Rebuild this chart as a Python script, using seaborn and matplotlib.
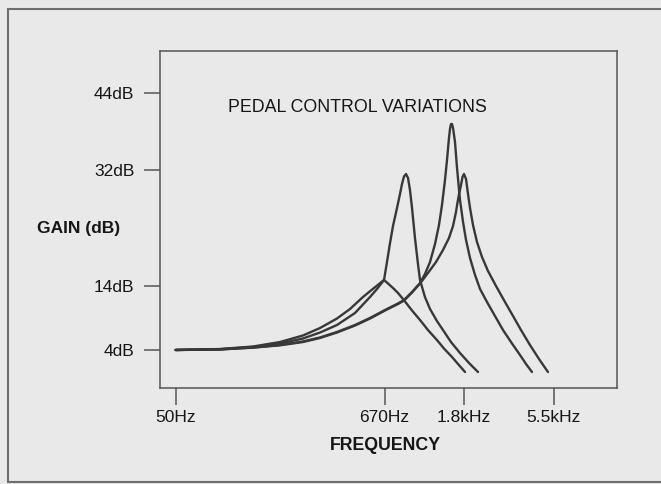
import matplotlib
matplotlib.use("Agg")
import matplotlib.pyplot as plt
from matplotlib.lines import Line2D
import pandas as pd
import seaborn as sns

# Response curves for four pedal positions (frequency in Hz, gain in dB)
freq_a = [50, 86.7, 130.7, 182.8, 243.2, 300.5, 371.0, 436.2, 512.5, 587.6,
          665.6, 699.7, 744.2, 792.0, 864.0, 942.6, 1041, 1149, 1285, 1402,
          1549, 1669, 1822]
gain_a = [3.96, 4.11, 4.50, 5.20, 6.22, 7.38, 8.86, 10.34, 12.21, 13.61,
          14.86, 14.31, 13.61, 12.84, 11.51, 10.11, 8.63, 7.07, 5.51, 4.19,
          2.87, 1.78, 0.53]

freq_b = [50, 86.7, 130.7, 182.8, 243.2, 300.5, 371.0, 464.1, 559.3, 610,
          665.6, 690.7, 717.2, 744.2, 782.2, 811.9, 832.3, 853.3, 874.9, 896.9,
          919.2, 942.6, 977.9, 1015, 1041, 1107, 1179, 1285, 1385, 1530,
          1711, 1914, 2140]
gain_b = [3.96, 4.08, 4.43, 4.97, 5.75, 6.68, 7.85, 9.72, 12.21, 13.46,
          14.86, 17.66, 20.62, 23.27, 26.07, 28.25, 29.81, 30.98, 31.36, 30.74,
          28.87, 26.07, 21.40, 17.35, 14.86, 12.21, 10.34, 8.47, 7.07, 5.20,
          3.49, 1.93, 0.53]

freq_c = [50, 86.7, 130.7, 182.8, 243.2, 300.5, 371.0, 464.1, 559.3, 674.1,
          792.0, 853.3, 942.6, 1041, 1107, 1179, 1254, 1318, 1368, 1420,
          1456, 1492, 1511, 1530, 1549, 1569, 1608, 1628, 1649, 1691,
          1711, 1777, 1844, 1938, 2062, 2194, 2393, 2643, 2920, 3225,
          3606, 3886, 4186]
gain_c = [3.96, 4.05, 4.35, 4.74, 5.29, 5.91, 6.76, 7.85, 8.94, 10.19,
          11.20, 11.74, 12.99, 14.39, 15.79, 17.66, 20.46, 23.42, 26.54, 30.43,
          33.54, 36.97, 38.37, 39.15, 39.15, 38.53, 36.35, 34.32, 32.30, 28.87,
          27.32, 23.89, 21.09, 18.28, 15.64, 13.46, 11.43, 9.25, 7.07, 5.20,
          3.18, 1.78, 0.53]

freq_d = [50, 86.7, 130.7, 182.8, 243.2, 300.5, 371.0, 464.1, 559.3, 674.1,
          792.0, 853.3, 942.6, 1041, 1149, 1270, 1385, 1492, 1569, 1628,
          1657, 1691, 1733, 1765, 1798, 1844, 1890, 1938, 2011, 2113,
          2249, 2423, 2677, 2993, 3307, 3651, 4083, 4566, 5106]
gain_d = [3.96, 4.04, 4.32, 4.69, 5.20, 5.83, 6.68, 7.77, 8.86, 10.11,
          11.12, 11.66, 12.91, 14.31, 15.95, 17.66, 19.53, 21.40, 23.27, 25.45,
          26.85, 28.25, 29.65, 30.90, 31.36, 30.59, 28.25, 26.07, 23.42, 20.78,
          18.44, 16.26, 13.92, 11.43, 9.25, 7.07, 4.73, 2.56, 0.53]

x_ticks = [50, 670, 1800, 5500]
x_labels = ["50Hz", "670Hz", "1.8kHz", "5.5kHz"]
y_ticks = [4, 14, 32, 44]
y_labels = ["4dB", "14dB", "32dB", "44dB"]

curves = {"a": (freq_a, gain_a), "b": (freq_b, gain_b),
          "c": (freq_c, gain_c), "d": (freq_d, gain_d)}
df = pd.concat(
    [pd.DataFrame({"freq": f, "gain": g, "pos": name})
     for name, (f, g) in curves.items()],
    ignore_index=True,
)

sns.set_style("ticks")
plt.rcParams["font.family"] = ["Liberation Sans", "DejaVu Sans"]

paper = "#e9e9e9"
ink = "#383838"
text_col = "#161616"

fig = plt.figure(figsize=(6.61, 4.84), dpi=100, facecolor=paper)
ax = fig.add_axes([160 / 661, 1 - 388 / 484, 457 / 661, 337 / 484])
ax.set_facecolor(paper)

sns.lineplot(data=df, x="freq", y="gain", hue="pos", units="pos",
             estimator=None, sort=False, palette=[ink] * 4,
             linewidth=1.7, legend=False, ax=ax)
for ln in ax.get_lines():
    ln.set_solid_joinstyle("round")
    ln.set_solid_capstyle("round")

ax.set_xscale("log")
ax.set_xlim(41.15, 12036)
ax.set_ylim(-1.96, 50.52)
ax.set_xticks(x_ticks)
ax.set_xticklabels(x_labels)
ax.minorticks_off()
ax.set_yticks(y_ticks)
ax.set_yticklabels(y_labels)
ax.set_xlabel("")
ax.set_ylabel("")

ax.tick_params(axis="y", direction="out", length=11.5, width=1.1,
               color="#555555", pad=7, labelsize=12.5, labelcolor=text_col)
ax.tick_params(axis="x", direction="out", length=12, width=1.1,
               color="#555555", pad=3.5, labelsize=12.5, labelcolor=text_col)
for s in ax.spines.values():
    s.set_visible(True)
    s.set_color("#555555")
    s.set_linewidth(1.1)

fig.text(228 / 661, 1 - 108 / 484, "PEDAL CONTROL VARIATIONS",
         fontsize=12.8, color=text_col, ha="left", va="center")
fig.text(37 / 661, 1 - 228 / 484, "GAIN (dB)", fontsize=12.5,
         fontweight="bold", color=text_col, ha="left", va="center")
fig.text(385 / 661, 1 - 446 / 484, "FREQUENCY", fontsize=12.8,
         fontweight="bold", color=text_col, ha="center", va="center")

# Frame around the figure panel (open on the right)
frame_kw = dict(transform=fig.transFigure, color="#6e6e6e", linewidth=1.5)
fig.add_artist(Line2D([8 / 661, 8 / 661], [1 - 9 / 484, 1 - 482 / 484], **frame_kw))
fig.add_artist(Line2D([8 / 661, 1.0], [1 - 9 / 484, 1 - 9 / 484], **frame_kw))
fig.add_artist(Line2D([8 / 661, 1.0], [1 - 482 / 484, 1 - 482 / 484], **frame_kw))

fig.savefig("out.png", dpi=100, facecolor=paper)
